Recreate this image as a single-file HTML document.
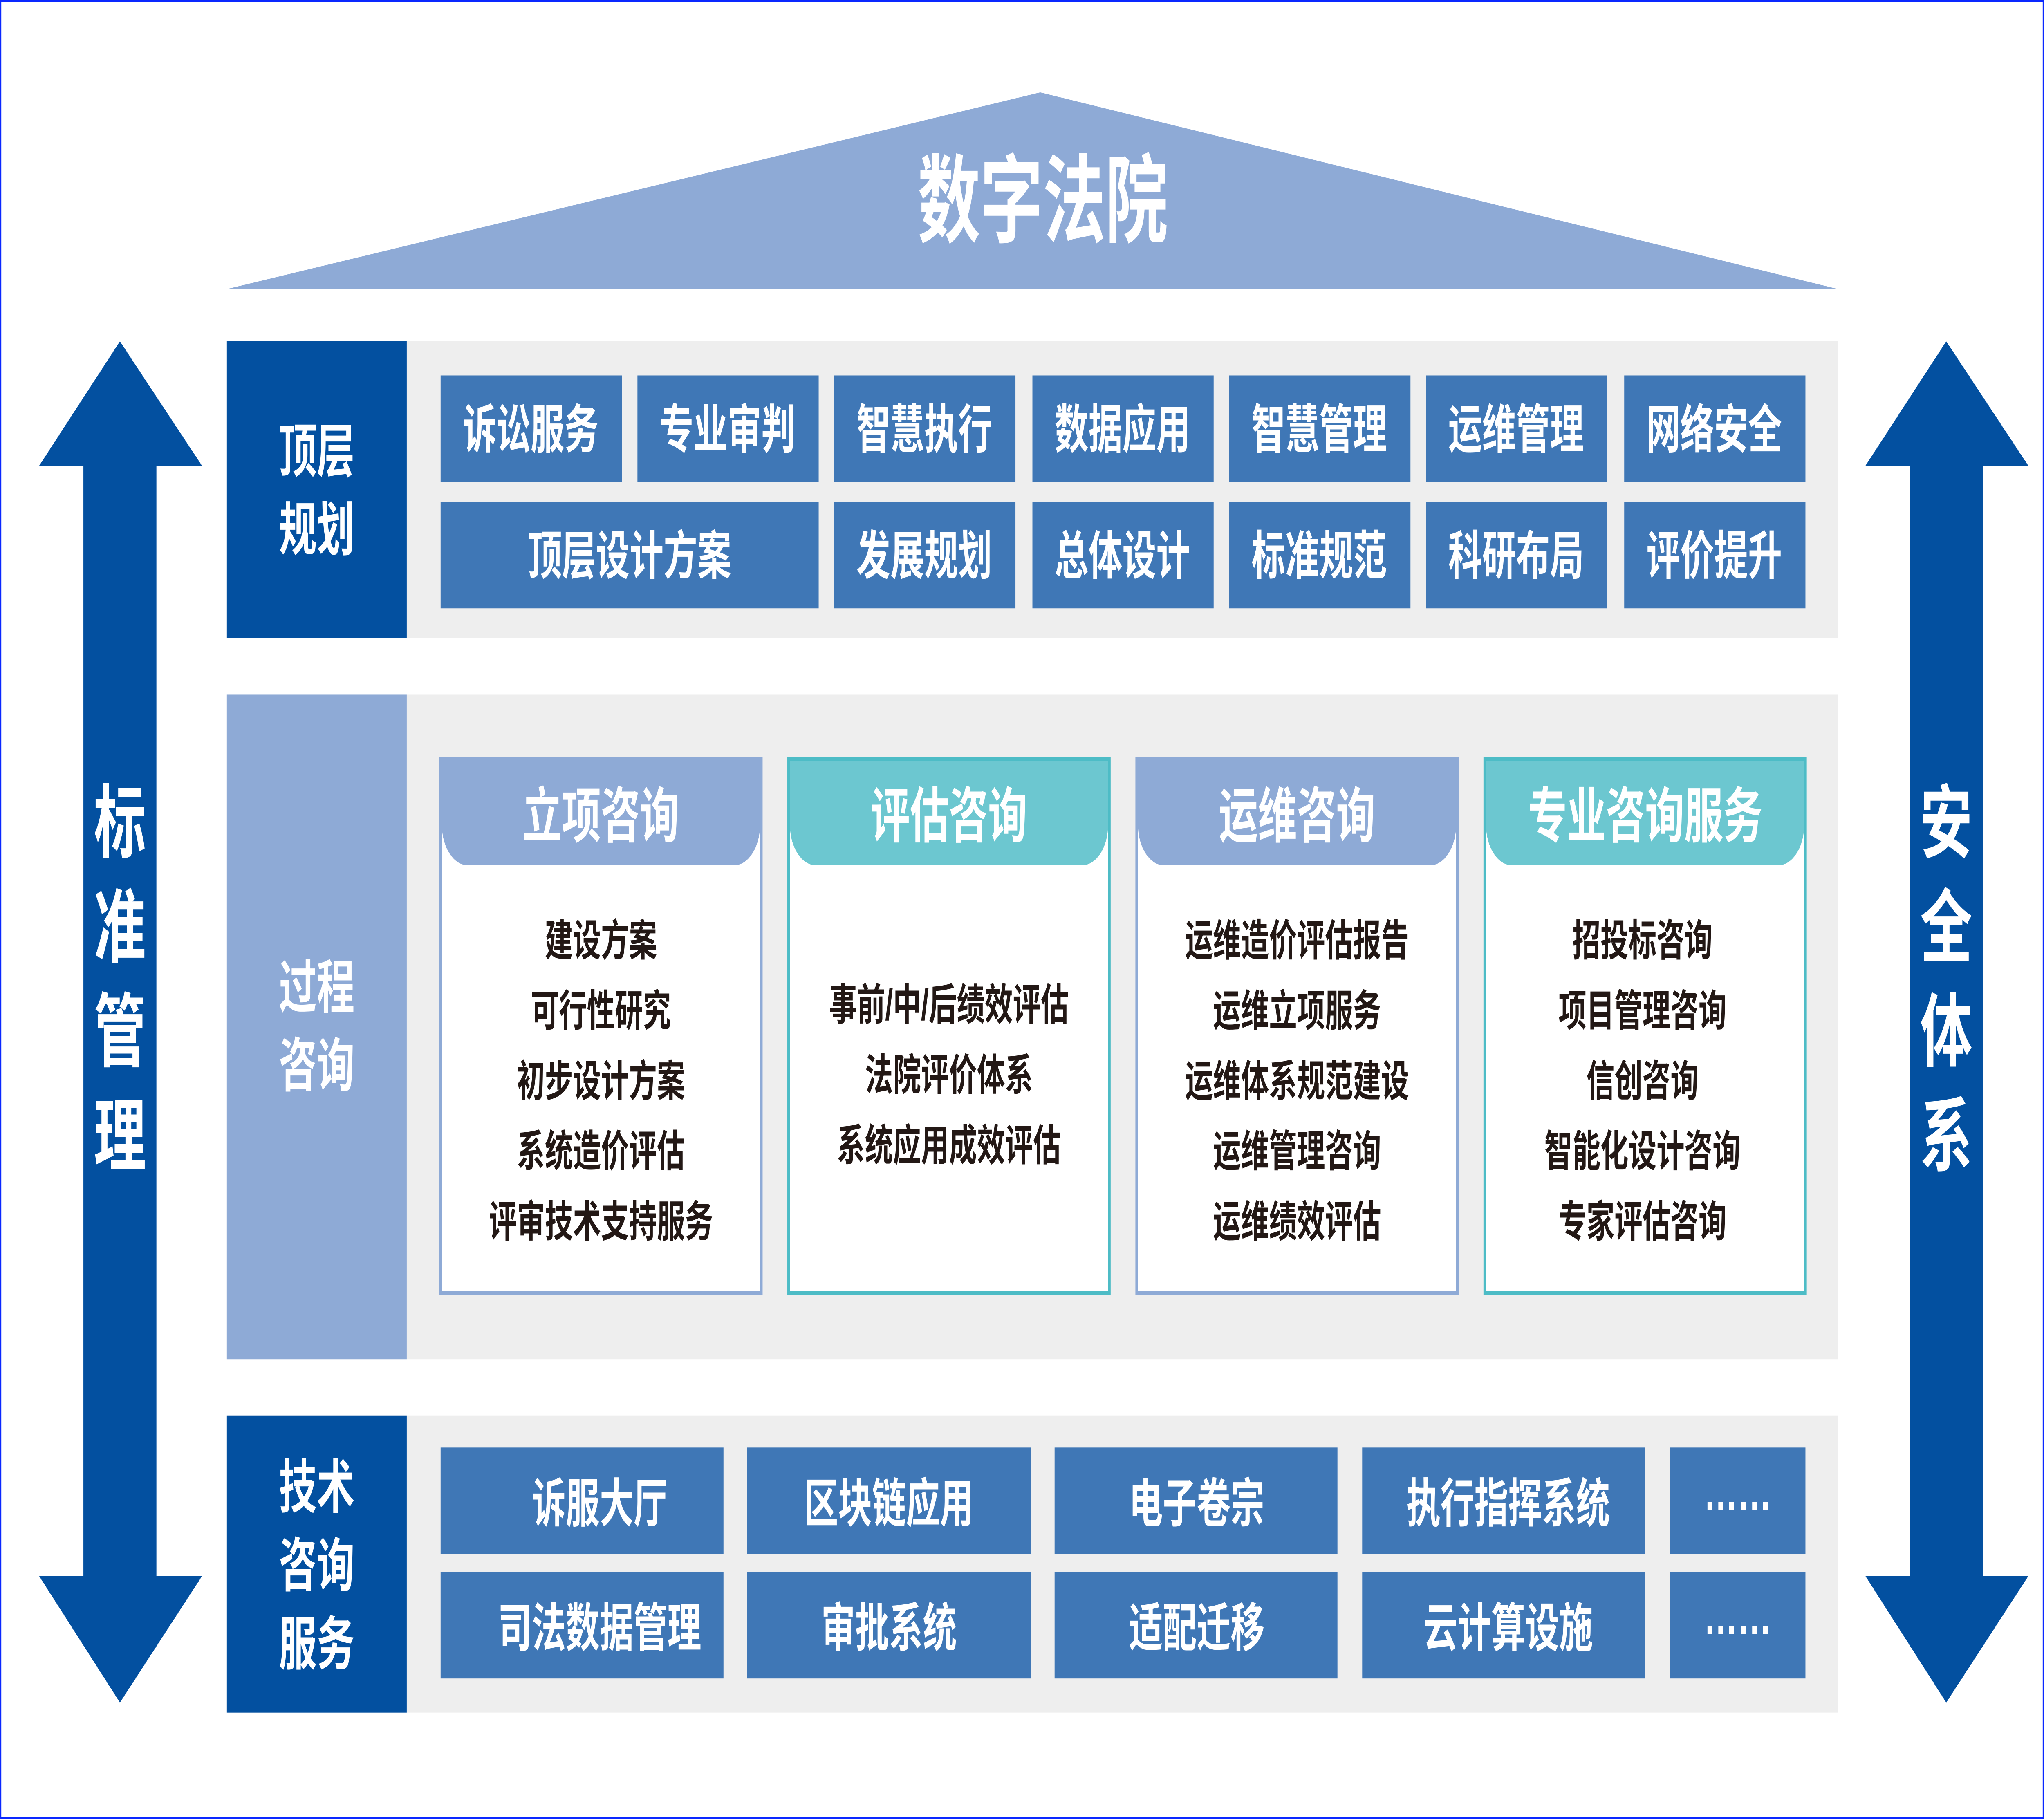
<!DOCTYPE html>
<html><head><meta charset="utf-8"><style>
html,body{margin:0;padding:0;background:#fff;width:100%;height:100%;overflow:hidden;}
svg{display:block;position:fixed;left:0;top:0;width:100vw;height:100vh;}
text{font-family:"Liberation Sans","Noto Sans CJK SC",sans-serif;font-weight:bold;text-anchor:middle;}
.w{fill:#fff;}
.k{fill:#231815;font-size:21.5px;}
.bt{font-size:26px;fill:#fff;}
</style></head><body>
<svg viewBox="0 0 1568 906" preserveAspectRatio="none">
<rect x="0.5" y="0.5" width="1567" height="905" fill="#fff" stroke="#0a28ff" stroke-width="1"/>
<polygon points="174,144 798,46 1410,144" fill="#8eaad6"/>
<text class="w" x="800" y="117" font-size="48">数字法院</text>
<polygon points="92,170 155,232 120,232 120,785 155,785 92,848 30,785 64,785 64,232 30,232" fill="#0350a0"/>
<polygon points="1493,170 1556,232 1521,232 1521,785 1556,785 1493,848 1431,785 1465,785 1465,232 1431,232" fill="#0350a0"/>
<g class="w" font-size="40">
<text x="92" y="424">标</text><text x="92" y="476">准</text><text x="92" y="528">管</text><text x="92" y="580">理</text>
<text x="1493" y="424">安</text><text x="1493" y="476">全</text><text x="1493" y="528">体</text><text x="1493" y="580">系</text>
</g>

<rect x="174" y="170" width="1236" height="148" fill="#eeeeee"/>
<rect x="174" y="170" width="138" height="148" fill="#0350a0"/>
<text class="w" x="243" y="235" font-size="29">顶层</text>
<text class="w" x="243" y="274" font-size="29">规划</text>
<g fill="#3f77b6">
<rect x="338" y="187" width="139" height="53"/><rect x="489" y="187" width="139" height="53"/><rect x="640" y="187" width="139" height="53"/><rect x="792" y="187" width="139" height="53"/><rect x="943" y="187" width="139" height="53"/><rect x="1094" y="187" width="139" height="53"/><rect x="1246" y="187" width="139" height="53"/>
<rect x="338" y="250" width="290" height="53"/><rect x="640" y="250" width="139" height="53"/><rect x="792" y="250" width="139" height="53"/><rect x="943" y="250" width="139" height="53"/><rect x="1094" y="250" width="139" height="53"/><rect x="1246" y="250" width="139" height="53"/>
</g>
<g class="bt">
<text x="407" y="223">诉讼服务</text><text x="558" y="223">专业审判</text><text x="709" y="223">智慧执行</text><text x="861" y="223">数据应用</text><text x="1012" y="223">智慧管理</text><text x="1163" y="223">运维管理</text><text x="1315" y="223">网络安全</text>
<text x="483" y="286">顶层设计方案</text><text x="709" y="286">发展规划</text><text x="861" y="286">总体设计</text><text x="1012" y="286">标准规范</text><text x="1163" y="286">科研布局</text><text x="1315" y="286">评价提升</text>
</g>

<rect x="174" y="346" width="1236" height="331" fill="#eeeeee"/>
<rect x="174" y="346" width="138" height="331" fill="#8eaad6"/>
<text class="w" x="243" y="502" font-size="29">过程</text>
<text class="w" x="243" y="541" font-size="29">咨询</text>

<g>
<rect x="338" y="378" width="246" height="266" fill="#fff" stroke="#8eaad6" stroke-width="2"/>
<path d="M339,379 H583 V411 a20,20 0 0 1 -20,20 H359 a20,20 0 0 1 -20,-20 Z" fill="#8eaad6"/>
<text class="w" x="461" y="417" font-size="30">立项咨询</text>
<g class="k"><text x="461" y="476">建设方案</text><text x="461" y="511">可行性研究</text><text x="461" y="546">初步设计方案</text><text x="461" y="581">系统造价评估</text><text x="461" y="616">评审技术支持服务</text></g>

<rect x="605" y="378" width="246" height="266" fill="#fff" stroke="#4dbcc6" stroke-width="2"/>
<path d="M606,379 H850 V411 a20,20 0 0 1 -20,20 H626 a20,20 0 0 1 -20,-20 Z" fill="#6cc7d0"/>
<text class="w" x="728" y="417" font-size="30">评估咨询</text>
<g class="k"><text x="728" y="508">事前/中/后绩效评估</text><text x="728" y="543">法院评价体系</text><text x="728" y="578">系统应用成效评估</text></g>

<rect x="872" y="378" width="246" height="266" fill="#fff" stroke="#8eaad6" stroke-width="2"/>
<path d="M873,379 H1117 V411 a20,20 0 0 1 -20,20 H893 a20,20 0 0 1 -20,-20 Z" fill="#8eaad6"/>
<text class="w" x="995" y="417" font-size="30">运维咨询</text>
<g class="k"><text x="995" y="476">运维造价评估报告</text><text x="995" y="511">运维立项服务</text><text x="995" y="546">运维体系规范建设</text><text x="995" y="581">运维管理咨询</text><text x="995" y="616">运维绩效评估</text></g>

<rect x="1139" y="378" width="246" height="266" fill="#fff" stroke="#4dbcc6" stroke-width="2"/>
<path d="M1140,379 H1384 V411 a20,20 0 0 1 -20,20 H1160 a20,20 0 0 1 -20,-20 Z" fill="#6cc7d0"/>
<text class="w" x="1262" y="417" font-size="30">专业咨询服务</text>
<g class="k"><text x="1260" y="476">招投标咨询</text><text x="1260" y="511">项目管理咨询</text><text x="1260" y="546">信创咨询</text><text x="1260" y="581">智能化设计咨询</text><text x="1260" y="616">专家评估咨询</text></g>
</g>

<rect x="174" y="705" width="1236" height="148" fill="#eeeeee"/>
<rect x="174" y="705" width="138" height="148" fill="#0350a0"/>
<text class="w" x="243" y="751" font-size="29">技术</text>
<text class="w" x="243" y="790" font-size="29">咨询</text>
<text class="w" x="243" y="829" font-size="29">服务</text>
<g fill="#3f77b6">
<rect x="338" y="721" width="217" height="53"/><rect x="573" y="721" width="218" height="53"/><rect x="809" y="721" width="217" height="53"/><rect x="1045" y="721" width="217" height="53"/><rect x="1281" y="721" width="104" height="53"/>
<rect x="338" y="783" width="217" height="53"/><rect x="573" y="783" width="218" height="53"/><rect x="809" y="783" width="217" height="53"/><rect x="1045" y="783" width="217" height="53"/><rect x="1281" y="783" width="104" height="53"/>
</g>
<g class="bt">
<text x="460" y="758">诉服大厅</text><text x="682" y="758">区块链应用</text><text x="918" y="758">电子卷宗</text><text x="1157" y="758">执行指挥系统</text><text x="1333" y="752">……</text>
<text x="460" y="820">司法数据管理</text><text x="682" y="820">审批系统</text><text x="918" y="820">适配迁移</text><text x="1157" y="820">云计算设施</text><text x="1333" y="814">……</text>
</g>
</svg>
</body></html>
